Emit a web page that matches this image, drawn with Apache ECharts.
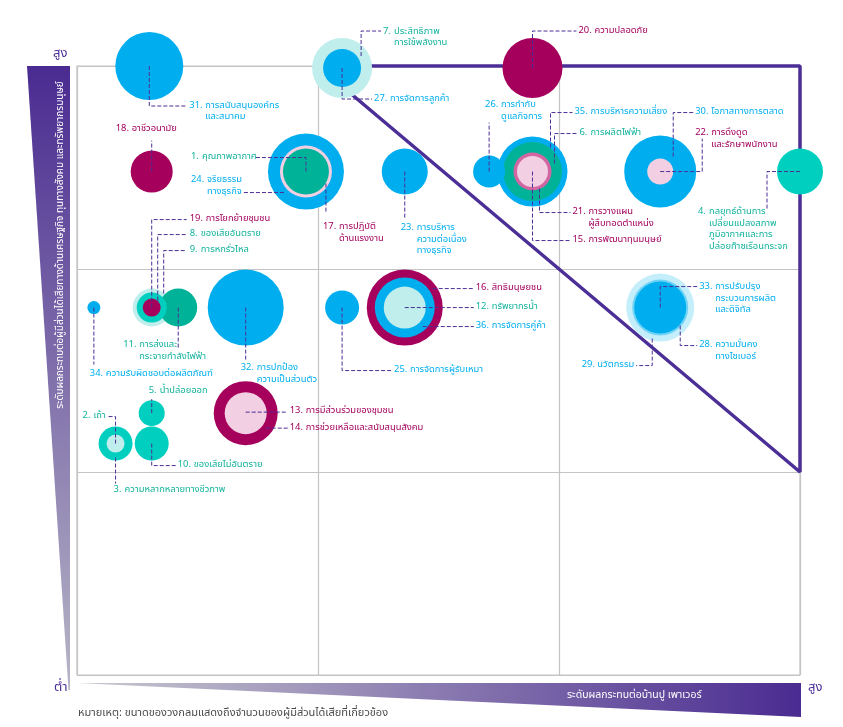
<!DOCTYPE html>
<html>
<head>
<meta charset="utf-8">
<script src="https://cdn.jsdelivr.net/npm/echarts@6/dist/echarts.min.js"></script>
<style>html,body{margin:0;padding:0;background:#fff;}#c{width:843px;height:727px;}</style>
</head>
<body>
<div id="c"></div>
<script>
// ---------- DATA ----------
const topicNo = [1,2,3,4,5,6,7,8,9,10,11,12,13,14,15,16,17,18,19,20,21,22,23,24,25,26,27,28,29,30,31,32,33,34,35,36];
const topicName = [
  'คุณภาพอากาศ',
  'เถ้า',
  'ความหลากหลายทางชีวภาพ',
  'กลยุทธ์ด้านการ\nเปลี่ยนแปลงสภาพ\nภูมิอากาศและการ\nปล่อยก๊าซเรือนกระจก',
  'น้ำปล่อยออก',
  'การผลิตไฟฟ้า',
  'ประสิทธิภาพ\nการใช้พลังงาน',
  'ของเสียอันตราย',
  'การหกรั่วไหล',
  'ของเสียไม่อันตราย',
  'การส่งและ\nกระจายกำลังไฟฟ้า',
  'ทรัพยากรน้ำ',
  'การมีส่วนร่วมของชุมชน',
  'การช่วยเหลือและสนับสนุนสังคม',
  'การพัฒนาทุนมนุษย์',
  'สิทธิมนุษยชน',
  'การปฏิบัติ\nด้านแรงงาน',
  'อาชีวอนามัย',
  'การโยกย้ายชุมชน',
  'ความปลอดภัย',
  'การวางแผน\nผู้สืบทอดตำแหน่ง',
  'การดึงดูด\nและรักษาพนักงาน',
  'การบริหาร\nความต่อเนื่อง\nทางธุรกิจ',
  'จริยธรรม\nทางธุรกิจ',
  'การจัดการผู้รับเหมา',
  'การกำกับ\nดูแลกิจการ',
  'การจัดการลูกค้า',
  'ความมั่นคง\nทางไซเบอร์',
  'นวัตกรรม',
  'โอกาสทางการตลาด',
  'การสนับสนุนองค์กร\nและสมาคม',
  'การปกป้อง\nความเป็นส่วนตัว',
  'การปรับปรุง\nกระบวนการผลิต\nและดิจิทัล',
  'ความรับผิดชอบต่อผลิตภัณฑ์',
  'การบริหารความเสี่ยง',
  'การจัดการคู่ค้า'
];
// impact on Banpu Power (x) and impact on stakeholders (y), 0..3
const impactPower = [0.95,0.16,0.16,3.00,0.31,1.89,1.10,0.31,0.31,0.31,0.42,1.36,0.70,0.70,1.89,1.36,0.95,0.31,0.31,1.89,1.89,2.42,1.36,0.95,1.10,1.71,1.10,2.42,2.42,2.42,0.30,0.70,2.42,0.07,1.89,1.36];
const impactStake = [2.48,1.14,1.14,2.48,1.29,2.48,2.99,1.81,1.81,1.14,1.81,1.81,1.29,1.29,2.48,1.81,2.48,2.48,1.81,2.99,2.48,2.48,2.48,2.48,1.81,2.48,2.99,1.81,1.81,2.48,3.00,1.81,1.81,1.81,2.48,1.81];
// relative number of stakeholders (bubble radius units)
const stakeholders = [23,9,17,23,13,29.5,30,15,19,17,19,21,21,32,15.5,38,26,21,9,30,19,13,23,38,17,16,19,28,34,36,34,38,26,6.5,35,30];
// category: env / soc / eco
const category = ['env','env','env','env','env','env','env','env','env','env','env','env','soc','soc','soc','soc','soc','soc','soc','soc','soc','soc','eco','eco','eco','eco','eco','eco','eco','eco','eco','eco','eco','eco','eco','eco'];
const tone = ['teal','cyanL','turq','turq','turq','teal','cyanL','turq','cyanL','turq','teal','cyanL','pinkL','mag','pinkL','mag','pinkL','mag','mag','mag','pinkM','pinkL','blue','blue','blue','blue','blue','blueM','blueL','blue','blue','blue','blue','blue','blue','blue'];
const diagonalZone = [[1,3],[3,3],[3,1],[1,3]];
const texts = {
  high: 'สูง', low: 'ต่ำ',
  xTitle: 'ระดับผลกระทบต่อบ้านปู เพาเวอร์',
  yTitle: 'ระดับผลกระทบต่อผู้มีส่วนได้เสียทางด้านเศรษฐกิจ ทุนทางสังคม และทรัพยากรมนุษย์',
  note: 'หมายเหตุ: ขนาดของวงกลมแสดงถึงจำนวนของผู้มีส่วนได้เสียที่เกี่ยวข้อง'
};

// ---------- STYLE / LAYOUT ----------
const FONT = '"Noto Sans Thai","Noto Sans","Loma","Garuda","DejaVu Sans",sans-serif';
const PURPLE = '#4b2e96';
const fillColors = {teal:'#00b398', turq:'#00cfc0', cyanL:'#bfeeec', mag:'#a5005c', pinkL:'#f2cfe2', pinkM:'#d266a3', blue:'#00aeef', blueM:'#6fd3f5', blueL:'#c4eefa'};
const labelColors = {env:'#12b29c', soc:'#a3005e', eco:'#00aeef'};
// leader paths (pixel offsets from bubble centre) and label anchors
const leader = {
  1:{p:[[0,0],[0,-14],[-51,-14]], t:[-115,-14]},
  2:{p:[[0,0],[0,-27],[-9,-27]], t:[-33,-27]},
  3:{p:[[0,14],[0,40]], t:[-2,47]},
  4:{p:[[0,0],[-33,0],[-33,39]], t:[-102,41]},
  5:{p:[[0,0],[0,-14]], t:[-3,-22]},
  6:{p:[[22,-8],[22,-38],[45,-38]], t:[47,-38]},
  7:{p:[[19,-12],[19,-37],[39,-37]], t:[41,-36]},
  8:{p:[[6,-7],[6,-73],[34,-73]], t:[38,-73]},
  9:{p:[[12,-14],[12,-57],[35,-57]], t:[38,-57]},
  10:{p:[[0,0],[0,22],[24,22]], t:[26,22]},
  11:{p:[[0,0],[0,41]], t:[-55,38]},
  12:{p:[[0,0],[69,0]], t:[71,0]},
  13:{p:[[0,-1],[42,-1]], t:[44,-2]},
  14:{p:[[20,15],[42,15]], t:[44,15]},
  15:{p:[[0,0],[0,69],[38,69]], t:[40,69]},
  16:{p:[[28,-19],[69,-19]], t:[71,-19]},
  17:{p:[[20,12],[20,41]], t:[17,56]},
  18:{p:[[0,0],[0,-31]], t:[-36,-42]},
  19:{p:[[0,0],[0,-88],[35,-88]], t:[38,-88]},
  20:{p:[[0,0],[0,-37],[44,-37]], t:[46,-37]},
  21:{p:[[7,17],[7,41],[38,41]], t:[40,41]},
  22:{p:[[0,0],[42,0],[42,-33]], t:[35,-38]},
  23:{p:[[0,0],[0,46]], t:[-4,57]},
  24:{p:[[-22,21],[-63,21]], t:[-115,9]},
  25:{p:[[0,0],[0,63],[50,63]], t:[52,63]},
  26:{p:[[0,0],[0,-49]], t:[-4,-66]},
  27:{p:[[0,0],[0,31],[30,31]], t:[32,31]},
  28:{p:[[20,18],[20,38],[37,38]], t:[39,38]},
  29:{p:[[-8,31],[-8,58],[-24,58]], t:[-26,58], a:'right'},
  30:{p:[[13,-15],[13,-59],[33,-59]], t:[35,-59]},
  31:{p:[[0,0],[0,40],[37,40]], t:[40,40]},
  32:{p:[[0,0],[0,52]], t:[-5,61]},
  33:{p:[[0,0],[0,-21],[37,-21]], t:[39,-20]},
  34:{p:[[0,0],[0,57]], t:[-4,67]},
  35:{p:[[18,-24],[18,-59],[40,-59]], t:[42,-59]},
  36:{p:[[18,19],[69,19]], t:[71,19]}
};
const FS = 9.4, LH = 11.5;

// ---------- BUILD ----------
const order = topicNo.map((_, i) => i).sort((a, b) => stakeholders[b] - stakeholders[a]);
const bubbleData = order.map(i => ({value:[impactPower[i], impactStake[i], stakeholders[i]], itemStyle:{color: fillColors[tone[i]]}}));
const labelData = topicNo.map((n, i) => [impactPower[i], impactStake[i], i]);

const chart = echarts.init(document.getElementById('c'), null, {renderer:'canvas'});
chart.setOption({
  animation:false,
  backgroundColor:'#fff',
  grid:{left:77, right:43, top:66, bottom:52, show:true, borderColor:'#c4c4c4', borderWidth:1.2, backgroundColor:'transparent'},
  xAxis:{type:'value', min:0, max:3, interval:1, axisLabel:{show:false}, axisTick:{show:false}, axisLine:{show:false}, splitLine:{lineStyle:{color:'#c4c4c4', width:1.2}}},
  yAxis:{type:'value', min:0, max:3, interval:1, axisLabel:{show:false}, axisTick:{show:false}, axisLine:{show:false}, splitLine:{lineStyle:{color:'#c4c4c4', width:1.2}}},
  graphic:[
    {type:'polygon', shape:{points:[[27,66],[70,66],[70,690],[68.5,690]]}, silent:true,
     style:{fill:new echarts.graphic.LinearGradient(0,0,0,1,[{offset:0,color:'#4a2b91'},{offset:1,color:'#b7b6c6'}])}},
    {type:'polygon', shape:{points:[[77,683],[801,683],[801,717]]}, silent:true,
     style:{fill:new echarts.graphic.LinearGradient(0,0,1,0,[{offset:0,color:'#c9c9cf'},{offset:1,color:'#4a2b91'}])}},
    {type:'text', x:61, y:245, rotation:Math.PI/2, silent:true,
     style:{text:texts.yTitle, fill:'#fff', fontSize:10, fontFamily:FONT, align:'center', verticalAlign:'middle'}},
    {type:'text', x:567, y:696, silent:true,
     style:{text:texts.xTitle, fill:'#fff', fontSize:10.5, fontFamily:FONT, align:'left', verticalAlign:'middle'}},
    {type:'text', x:53, y:54, silent:true,
     style:{text:texts.high, fill:PURPLE, fontSize:13, fontFamily:FONT, align:'left', verticalAlign:'middle'}},
    {type:'text', x:54, y:688, silent:true,
     style:{text:texts.low, fill:PURPLE, fontSize:13, fontFamily:FONT, align:'left', verticalAlign:'middle'}},
    {type:'text', x:808, y:688, silent:true,
     style:{text:texts.high, fill:PURPLE, fontSize:13, fontFamily:FONT, align:'left', verticalAlign:'middle'}},
    {type:'text', x:78, y:714, silent:true,
     style:{text:texts.note, fill:'#4a4a4a', fontSize:11, fontFamily:FONT, align:'left', verticalAlign:'middle'}}
  ],
  series:[
    {type:'line', data:diagonalZone, symbol:'none', clip:false, silent:true,
     lineStyle:{color:PURPLE, width:3.5}, z:2},
    {type:'custom', clip:false, silent:true, z:3, data:labelData,
     renderItem:function(params, api){
       const i = api.value(2);
       const c = api.coord([api.value(0), api.value(1)]);
       const sp = leader[topicNo[i]];
       const col = labelColors[category[i]];
       const kids = [{type:'polyline', silent:true,
         shape:{points: sp.p.map(p => [c[0]+p[0], c[1]+p[1]])},
         style:{stroke:PURPLE, lineWidth:1, lineDash:[4,2], fill:null}}];
       const tx = c[0]+sp.t[0], ty = c[1]+sp.t[1];
       const num = topicNo[i] + '.';
       if (sp.a === 'right') {
         kids.push({type:'text', x:tx, y:ty, silent:true,
           style:{text:num + ' ' + topicName[i], fill:col, fontSize:FS, fontFamily:FONT, align:'right', verticalAlign:'middle'}});
       } else {
         const indent = topicNo[i] >= 10 ? 16 : 11;
         kids.push({type:'text', x:tx, y:ty, silent:true,
           style:{text:num, fill:col, fontSize:FS, fontFamily:FONT, align:'left', verticalAlign:'middle'}});
         kids.push({type:'text', x:tx+indent, y:ty-LH/2, silent:true,
           style:{text:topicName[i], fill:col, fontSize:FS, fontFamily:FONT, align:'left', verticalAlign:'top', lineHeight:LH}});
       }
       return {type:'group', children:kids};
     }},
    {type:'scatter', data:bubbleData, clip:false, silent:true, z:2,
     symbolSize:function(v){ return v[2]*2; },
     itemStyle:{opacity:1}}
  ]
});
</script>
</body>
</html>
